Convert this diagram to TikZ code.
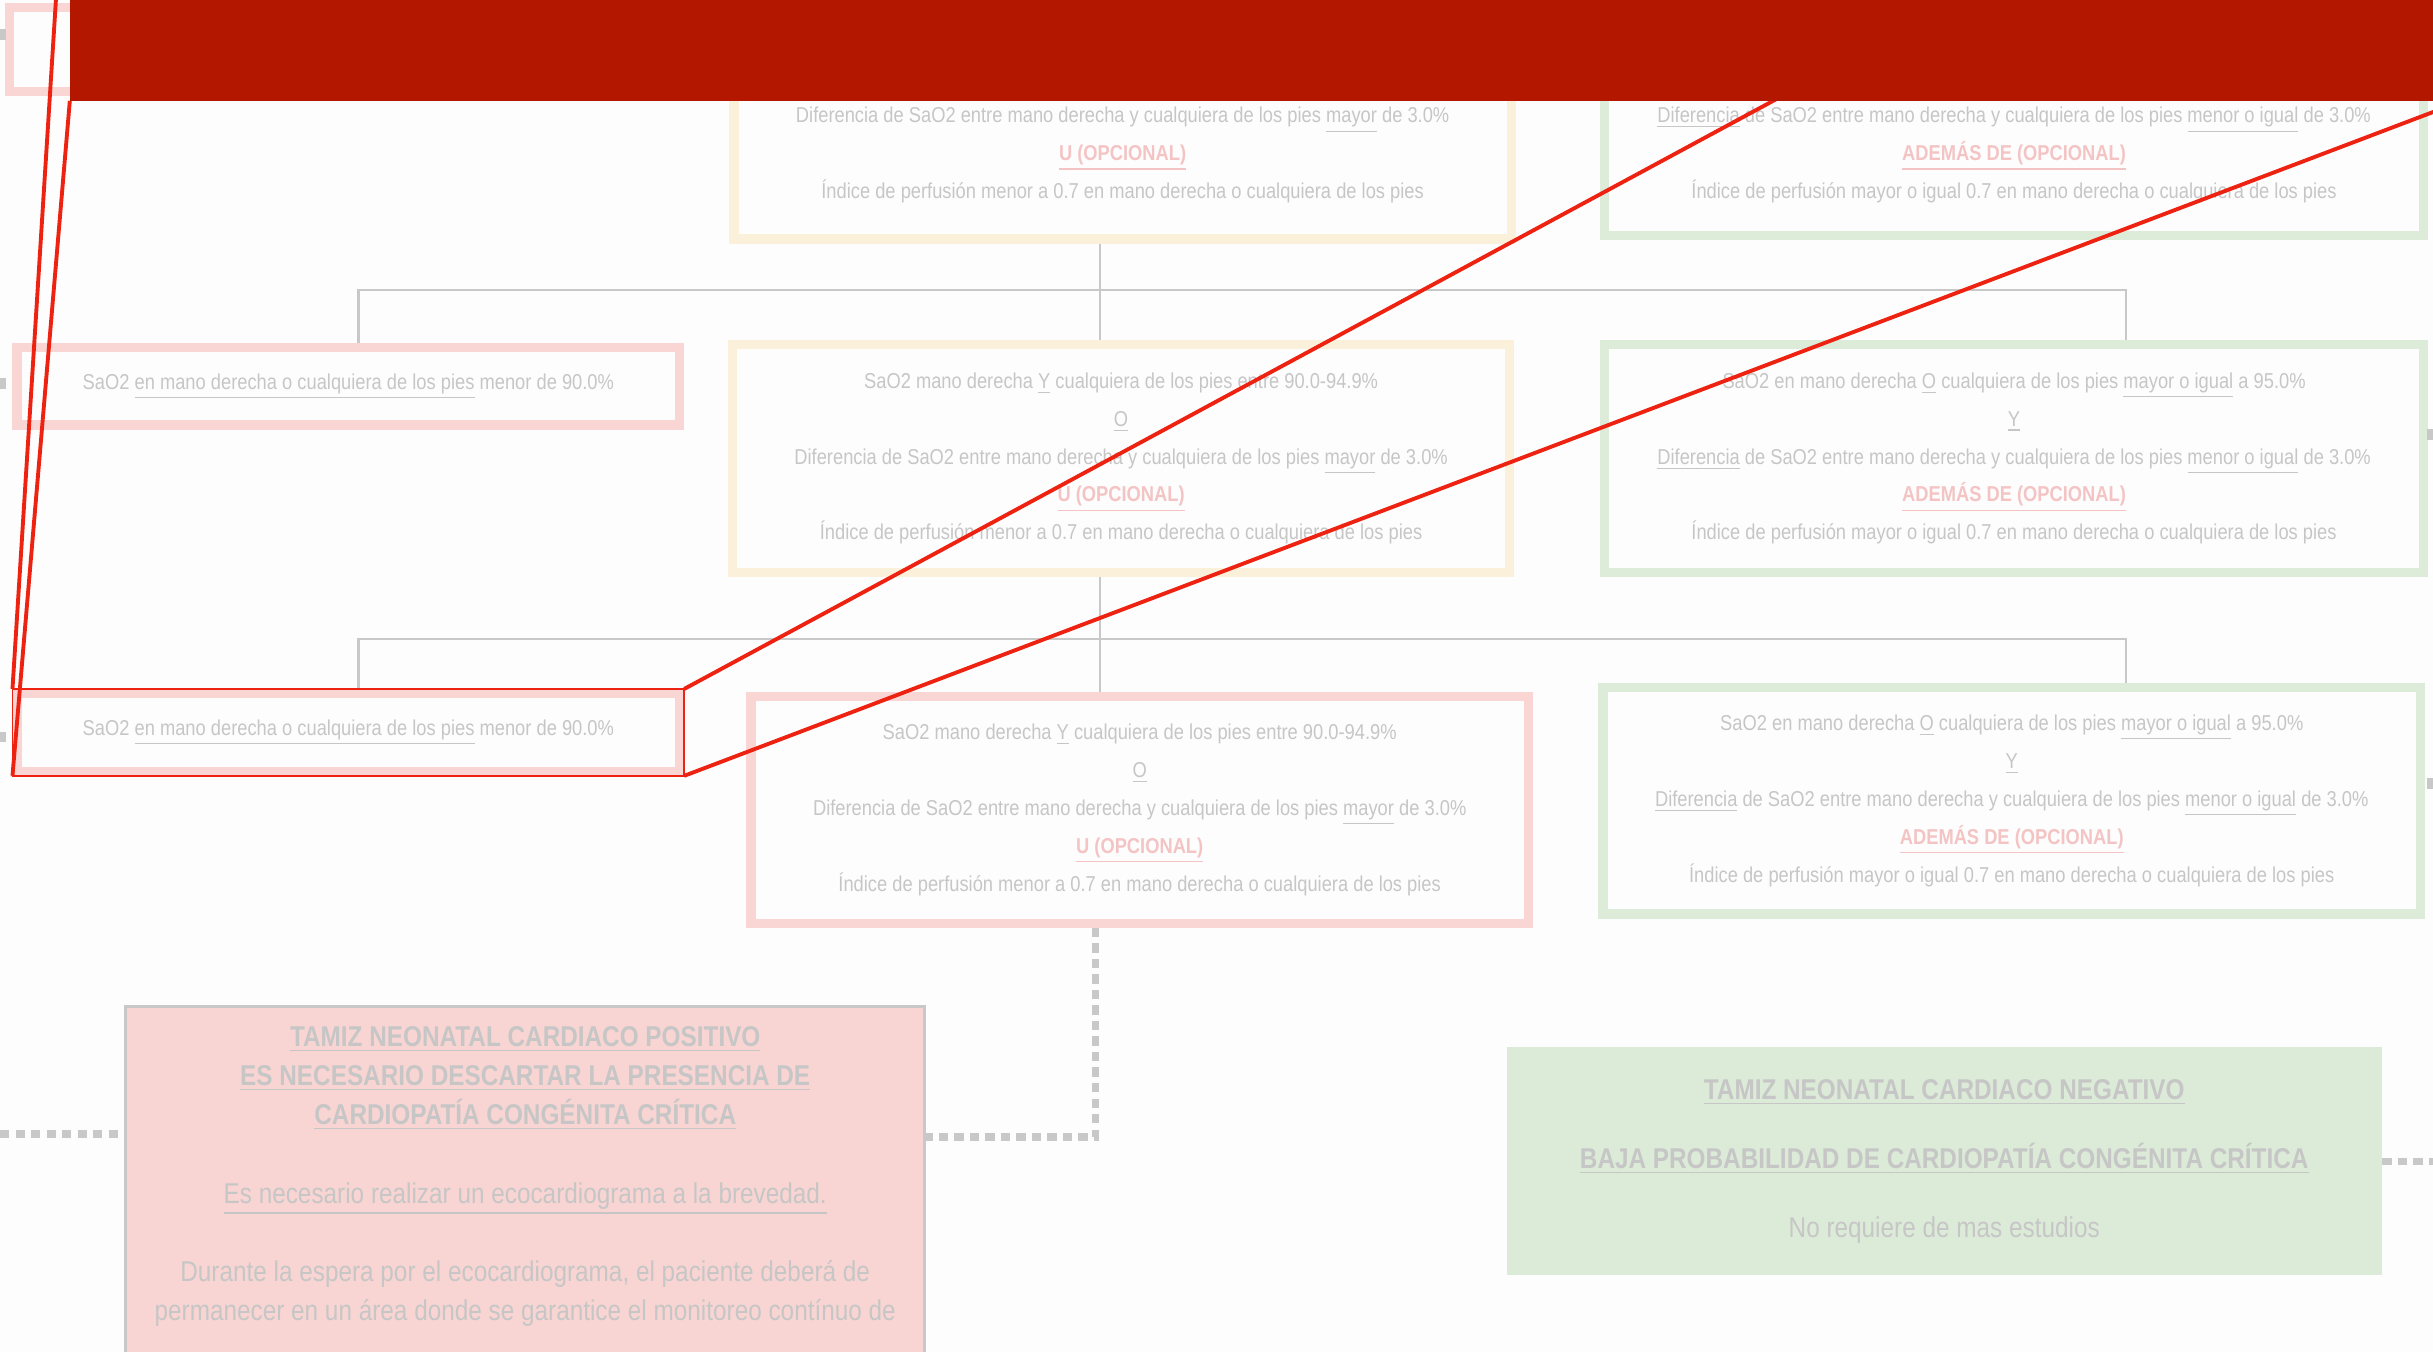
\documentclass[tikz,border=0pt]{standalone}
\usepackage{fontspec}
\setmainfont{Liberation Sans}[FakeStretch=0.85]
\usepackage{tikz}
\usetikzlibrary{calc}
\definecolor{bannerred}{HTML}{B31700}
\definecolor{callred}{HTML}{EE2211}
\definecolor{pinkline}{HTML}{F9D6D4}
\definecolor{yellowline}{HTML}{FBF0DA}
\definecolor{greenline}{HTML}{DDEBD9}
\definecolor{txtgray}{HTML}{C6C6C6}
\definecolor{optpink}{HTML}{F4C4C4}
\definecolor{conngray}{HTML}{C8C8C8}
\definecolor{posfill}{HTML}{F8D5D3}
\definecolor{negfill}{HTML}{DCEBD8}
\definecolor{paper}{HTML}{FDFDFD}
\tikzstyle{box}=[draw,line width=0.12cm,fill=paper,inner sep=0pt,text=txtgray,align=center,font=\fontsize{7.9}{13.9}\selectfont]
\tikzstyle{pink box}=[box,draw=pinkline]
\tikzstyle{yellow box}=[box,draw=yellowline]
\tikzstyle{green box}=[box,draw=greenline]
\tikzstyle{rowtext}=[inner sep=0pt,text=txtgray,align=center,font=\fontsize{7.9}{13.9}\selectfont]
\tikzstyle{result}=[inner sep=0pt,text=txtgray,align=center,font=\fontsize{10.5}{14.4}\selectfont]
\tikzstyle{conn}=[draw=conngray,line width=0.03cm]
\tikzstyle{dots}=[draw=conngray,line width=0.1cm,dash pattern=on 0.12cm off 0.08cm]
\tikzstyle{stub}=[draw=conngray,line width=0.14cm]
\tikzstyle{callout}=[draw=callred,line width=0.05cm]
\newcommand{\opc}[1]{{\bfseries\color{optpink}\underline{#1}}}
\newcommand{\lowsat}{SaO2 \underline{en mano derecha o cualquiera de los pies} menor de 90.0\%}
\newcommand{\midsat}{SaO2 mano derecha \underline{Y} cualquiera de los pies entre 90.0-94.9\%\\
  \underline{O}\\
  Diferencia de SaO2 entre mano derecha y cualquiera de los pies \underline{mayor} de 3.0\%\\
  \opc{U (OPCIONAL)}\\
  Índice de perfusión menor a 0.7 en mano derecha o cualquiera de los pies}
\newcommand{\highsat}{SaO2 en mano derecha \underline{O} cualquiera de los pies \underline{mayor o igual} a 95.0\%\\
  \underline{Y}\\
  \underline{Diferencia} de SaO2 entre mano derecha y cualquiera de los pies \underline{menor o igual} de 3.0\%\\
  \opc{ADEMÁS DE (OPCIONAL)}\\
  Índice de perfusión mayor o igual 0.7 en mano derecha o cualquiera de los pies}

\begin{document}
\begin{tikzpicture}[x=0.02cm,y=-0.02cm]
    \clip (0,0) rectangle (1568,871);
    \fill[paper] (0,0) rectangle (1568,871);
    \node[pink box,minimum width=8.64cm,minimum height=1.08cm] (r1p) at (222,32) {};
    \node[yellow box,minimum width=10.02cm,minimum height=2.92cm] (r1y) at (723.5,81) {};
    \node[green box,minimum width=10.56cm,minimum height=2.92cm] (r1g) at (1298,79) {};
    \node[rowtext] (r1yt) at ($(r1y.south)+(0,-57)$) {Diferencia de SaO2 entre mano derecha y cualquiera de los pies \underline{mayor} de 3.0\%\\
        \opc{U (OPCIONAL)}\\
        Índice de perfusión menor a 0.7 en mano derecha o cualquiera de los pies};
    \node[rowtext] (r1gt) at ($(r1g.south)+(0,-55)$) {\underline{Diferencia} de SaO2 entre mano derecha y cualquiera de los pies \underline{menor o igual} de 3.0\%\\
        \opc{ADEMÁS DE (OPCIONAL)}\\
        Índice de perfusión mayor o igual 0.7 en mano derecha o cualquiera de los pies};
    \node[pink box,minimum width=8.54cm,minimum height=1cm] (r2p) at (224.5,249) {\lowsat};
    \node[yellow box,minimum width=10.02cm,minimum height=2.94cm] (r2y) at (722.5,295.5) {\midsat};
    \node[green box,minimum width=10.56cm,minimum height=2.94cm] (r2g) at (1298,295.5) {\highsat};
    \node[pink box,minimum width=8.54cm,minimum height=1cm] (r3p) at (224.5,472) {\lowsat};
    \node[pink box,minimum width=10.02cm,minimum height=2.92cm] (r3m) at (734.5,522) {\midsat};
    \node[green box,minimum width=10.54cm,minimum height=2.92cm] (r3g) at (1296.5,516) {\highsat};
    \node[draw=conngray,line width=0.035cm,fill=posfill,minimum width=10.3cm,minimum height=5.6cm,anchor=north] (pos) at (338.5,648) {};
    \node[result,anchor=north] (post) at ($(pos.north)+(0,13)$) {{\bfseries\underline{TAMIZ NEONATAL CARDIACO POSITIVO}}\\
        {\bfseries\underline{ES NECESARIO DESCARTAR LA PRESENCIA DE}}\\
        {\bfseries\underline{CARDIOPATÍA CONGÉNITA CRÍTICA}}\\[14.4pt]
        \underline{Es necesario realizar un ecocardiograma a la brevedad.}\\[14.4pt]
        Durante la espera por el ecocardiograma, el paciente deberá de\\
        permanecer en un área donde se garantice el monitoreo contínuo de};
    \node[result,fill=negfill,minimum width=11.28cm,minimum height=2.94cm] (neg) at (1253,748.5) {{\bfseries\underline{TAMIZ NEONATAL CARDIACO NEGATIVO}}\\[10.9pt]
        {\bfseries\underline{BAJA PROBABILIDAD DE CARDIOPATÍA CONGÉNITA CRÍTICA}}\\[10.9pt]
        No requiere de mas estudios};
    \coordinate (cl) at (231,0);
    \coordinate (cm) at (709,0);
    \coordinate (cr) at (1370,0);
    \draw[conn] (r1y.south -| cm) -- ++(0,30) coordinate (j1);
    \draw[conn] (r2p.north -| cl) |- (j1) -| (r2g.north -| cr);
    \draw[conn] (j1) -- (r2y.north -| cm);
    \draw[conn] (r2y.south -| cm) -- ++(0,40) coordinate (j2);
    \draw[conn] (r3p.north -| cl) |- (j2) -| (r3g.north -| cr);
    \draw[conn] (j2) -- (r3m.north -| cm);
    \coordinate (inpos) at (0,731);
    \draw[dots] ($(r3m.south)+(-28.5,0)$) |- ($(pos.north east)+(0,85)$);
    \draw[dots] (inpos) -- (inpos -| pos.west);
    \draw[dots] (neg.east) -- ++(40,0);
    \foreach \y in {22,247,475}
        \draw[stub] (0,\y) -- (4,\y);
    \foreach \y in {280,505}
        \draw[stub] (1564,\y) -- (1568,\y);
    \coordinate (zTL) at (45,-142);
    \coordinate (zTR) at (1526,-142);
    \coordinate (zBL) at (45,65);
    \coordinate (zBR) at (1587,65);
    \draw[callred,line width=0.025cm] (r3p.north west) rectangle (r3p.south east);
    \draw[callout] (r3p.north west) -- (zTL);
    \draw[callout] (r3p.south west) -- (zBL);
    \draw[callout] (r3p.north east) -- (zTR);
    \draw[callout] (r3p.south east) -- (zBR);
    \fill[bannerred] (zTL) rectangle (zBR);
\end{tikzpicture}
\end{document}
